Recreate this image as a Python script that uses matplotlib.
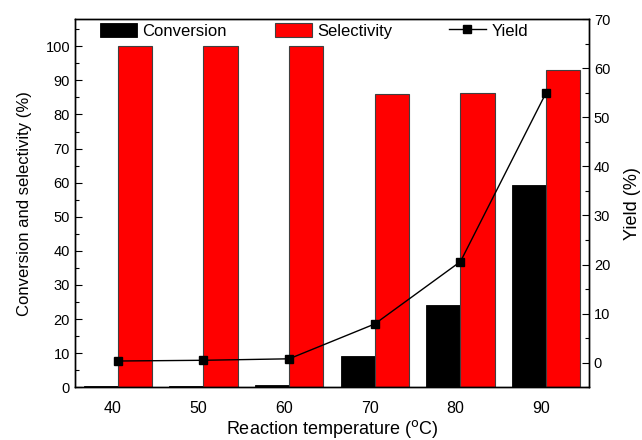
import matplotlib as mpl
mpl.use('Agg')
import matplotlib.pyplot as plt
import matplotlib.transforms as mtransforms
import numpy as np

mpl.rcParams['font.family'] = ['Liberation Sans', 'DejaVu Sans']
mpl.rcParams['font.size'] = 10

# data
temperature = [40, 50, 60, 70, 80, 90]
conversion = [0.3, 0.5, 0.8, 9.3, 24.0, 59.4]
selectivity = [100, 100, 100, 86.0, 86.4, 93.1]
yield_pct = [0.35, 0.5, 0.8, 7.9, 20.6, 55.0]

fig = plt.figure(figsize=(6.42, 4.40), dpi=100)
ax1 = fig.add_axes([0.1168, 0.1198, 0.8006, 0.837])
ax2 = ax1.twinx()

x = np.array(temperature, dtype=float)
w = 4.0
b1 = ax1.bar(x - w / 2, conversion, width=w, color='black', edgecolor='black',
             linewidth=0.6, label='Conversion')
b2 = ax1.bar(x + w / 2, selectivity, width=w, color='#ff0000', edgecolor='#404040',
             linewidth=0.8, label='Selectivity')
l1, = ax2.plot(x, yield_pct, color='black', lw=1.0, marker='s', markersize=6,
               label='Yield')

ax1.set_xlim(35, 95)
ax1.set_ylim(0, 108)
ax2.set_ylim(-5, 70)

ax1.set_xticks(temperature)
ax1.tick_params(axis='x', length=0, pad=10, labelsize=11.5)
# labels sit a little left of the group centre in the original
off = mtransforms.ScaledTranslation(-5 / 100, 0, fig.dpi_scale_trans)
for lab in ax1.get_xticklabels():
    lab.set_transform(lab.get_transform() + off)

ax1.set_yticks(np.arange(0, 101, 10))
ax1.set_yticks(np.arange(5, 106, 10), minor=True)
ax1.tick_params(axis='y', which='major', direction='in', length=5, width=0.8, labelsize=10.5)
ax1.tick_params(axis='y', which='minor', direction='in', length=3, width=0.8)
ax2.set_yticks(np.arange(0, 71, 10))
ax2.set_yticks(np.arange(-5, 70, 10), minor=True)
ax2.tick_params(axis='y', which='major', direction='in', length=5, width=0.8, labelsize=10.5)
ax2.tick_params(axis='y', which='minor', direction='in', length=3, width=0.8)

for sp in ax1.spines.values():
    sp.set_linewidth(1.0)
for sp in ax2.spines.values():
    sp.set_linewidth(1.0)

ax1.set_xlabel('Reaction temperature ($^{\\rm o}$C)', fontsize=13, labelpad=1)
ax1.set_ylabel('Conversion and selectivity (%)', fontsize=12, labelpad=10)
ax2.set_ylabel('Yield (%)', fontsize=13, labelpad=10)

leg_kw = dict(loc='center left', frameon=False, fontsize=12, handlelength=2.2,
              handleheight=0.9, handletextpad=0.35, borderpad=0.0, borderaxespad=0.0)
lg1 = fig.legend([b1], ['Conversion'], bbox_to_anchor=(100 / 642, 1 - 31 / 440), **leg_kw)
lg2 = fig.legend([b2], ['Selectivity'], bbox_to_anchor=(275 / 642, 1 - 31 / 440), **leg_kw)
lg3 = fig.legend([l1], ['Yield'], bbox_to_anchor=(449 / 642, 1 - 31 / 440), **leg_kw)

plt.savefig('out.png', dpi=100)
